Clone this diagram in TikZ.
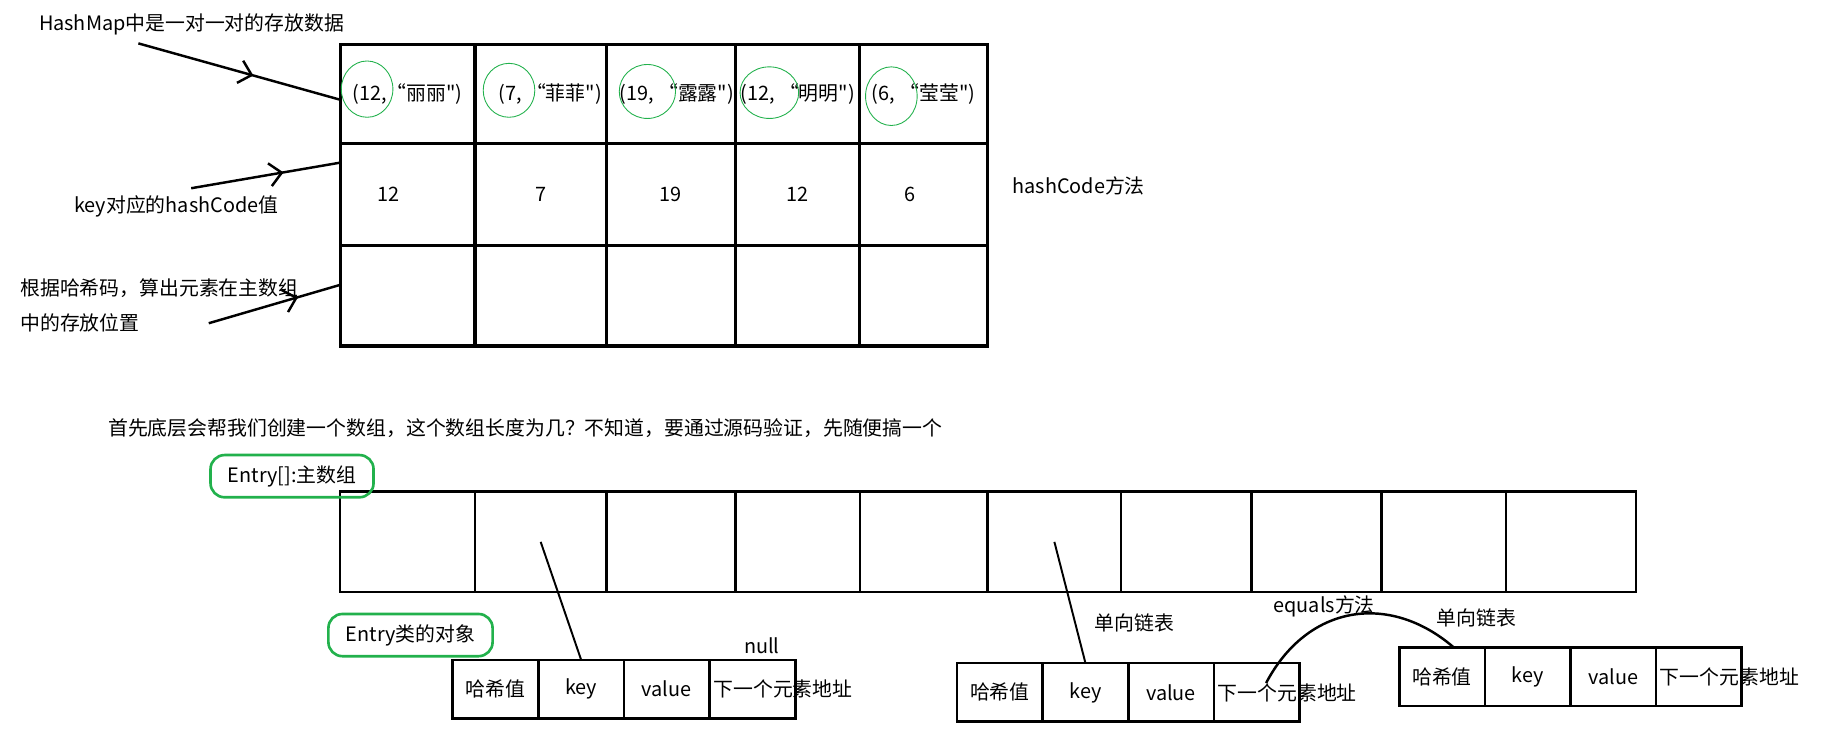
\documentclass[tikz,border=0pt]{standalone}
\usepackage{fontspec}
\setmainfont{Noto Sans CJK SC}[Ligatures=TeXOff]
\usepackage{tikz}
\usetikzlibrary{positioning, arrows.meta, decorations.markings, calc}
\definecolor{paintgreen}{RGB}{34,177,76}
\newlength{\px}
\setlength{\px}{0.02346cm}

\begin{document}
\begin{tikzpicture}[
  x=\px, y=-\px,
  every node/.style={font=\fontsize{11.3}{13}\selectfont},
  cell/.style 2 args={draw, line width=1.8pt, inner sep=0pt, outer sep=0pt, minimum width=#1\px, minimum height=#2\px},
  slot/.style={draw, line width=1.3pt, inner sep=0pt, outer sep=0pt, minimum width=#1\px, minimum height=86\px},
  field/.style={draw, line width=1.5pt, inner sep=0pt, outer sep=0pt, minimum width=73\px, minimum height=50\px},
  tag/.style={draw=paintgreen, line width=1.5pt, rounded corners=8pt, minimum width=#1\px, minimum height=36\px},
  ring/.style={draw=paintgreen, line width=0.5pt},
  pointer/.style={line width=1.1pt},
  hint/.style={line width=1.4pt, postaction={decorate}, decoration={markings, mark=at position #1 with {\arrow{Straight Barb[length=2.4mm, width=4.6mm]}}}}
]
  \useasboundingbox (0,0) rectangle (1568,637);

  \node[cell={115}{84}, anchor=north west] (t11) at (290,38) {(12,“丽丽")};
  \node[cell={112}{84}, right=0pt of t11] (t12) {\hspace*{16\px}(7, “菲菲")};
  \node[cell={110}{84}, right=0pt of t12] (t13) {\hspace*{10\px}(19, “露露")};
  \node[cell={106}{84}, right=0pt of t13] (t14) {(12, “明明")};
  \node[cell={109}{84}, right=0pt of t14] (t15) {(6, “莹莹")};
  \node[cell={115}{87}, below=0pt of t11] (t21) {\hspace*{-32\px}12};
  \node[cell={112}{87}, below=0pt of t12] (t22) {7};
  \node[cell={110}{87}, below=0pt of t13] (t23) {19};
  \node[cell={106}{87}, below=0pt of t14] (t24) {12};
  \node[cell={109}{87}, below=0pt of t15] (t25) {\hspace*{-24\px}6};
  \node[cell={115}{86}, below=0pt of t21] (t31) {};
  \node[cell={112}{86}, below=0pt of t22] (t32) {};
  \node[cell={110}{86}, below=0pt of t23] (t33) {};
  \node[cell={106}{86}, below=0pt of t24] (t34) {};
  \node[cell={109}{86}, below=0pt of t25] (t35) {};

  \foreach \cx/\cy/\rx/\ry in {313/76/22/24, 434/77/22/23, 552/78/24/23, 656/79/25/22, 760/82/22/25}
    \draw[ring] (\cx,\cy) ellipse [x radius=\rx, y radius=\ry];

  \node[anchor=west] (title) at (28,21) {HashMap中是一对一对的存放数据};
  \node[anchor=west] (hashval) at (58,176) {key对应的hashCode值};
  \node[anchor=west, align=left, font=\fontsize{11.3}{20}\selectfont] (place) at (12,260.7) {根据哈希码，算出元素在主数组\\中的存放位置};
  \node[anchor=west] (method) at (858,158.5) {hashCode方法};

  \coordinate (a1) at (118,37);
  \coordinate (a2) at (163,160.5);
  \coordinate (a3) at (178,275.6);
  \draw[hint=0.57] (a1) -- (t11.185);
  \draw[hint=0.62] (a2) -- (t21.155);
  \draw[hint=0.68] (a3) -- (t31.171);

  \node[anchor=west] (intro) at (87,365) {首先底层会帮我们创建一个数组，这个数组长度为几？不知道，要通过源码验证，先随便搞一个};

  \node[slot=115, anchor=north west] (b1) at (290,419) {};
  \node[slot=112, right=0pt of b1] (b2) {};
  \node[slot=110, right=0pt of b2] (b3) {};
  \node[slot=106, right=0pt of b3] (b4) {};
  \node[slot=109, right=0pt of b4] (b5) {};
  \node[slot=114, right=0pt of b5] (b6) {};
  \node[slot=111, right=0pt of b6] (b7) {};
  \node[slot=111, right=0pt of b7] (b8) {};
  \node[slot=106, right=0pt of b8] (b9) {};
  \node[slot=111, right=0pt of b9] (b10) {};

  \node[tag=139] (mainarr) at (249,406) {Entry[]:主数组};
  \node[tag=140] (entryobj) at (350,541.5) {Entry类的对象};

  \node[field, anchor=north west] (e1hash) at (386,562.6) {哈希值};
  \node[field, right=0pt of e1hash] (e1key) {key};
  \node[field, right=0pt of e1key] (e1val) {value};
  \node[field, right=0pt of e1val] (e1next) {};
  \node[anchor=west, inner sep=0pt] (e1addr) at ([xshift=3\px]e1next.west) {下一个元素地址};
  \node[above=0pt of e1next, xshift=8\px] (null) {null};

  \node[field, anchor=north west] (e2hash) at (816,565.4) {哈希值};
  \node[field, right=0pt of e2hash] (e2key) {key};
  \node[field, right=0pt of e2key] (e2val) {value};
  \node[field, right=0pt of e2val] (e2next) {};
  \node[anchor=west, inner sep=0pt] (e2addr) at ([xshift=3\px]e2next.west) {下一个元素地址};

  \node[field, anchor=north west] (e3hash) at (1193,552) {哈希值};
  \node[field, right=0pt of e3hash] (e3key) {key};
  \node[field, right=0pt of e3key] (e3val) {value};
  \node[field, right=0pt of e3val] (e3next) {};
  \node[anchor=west, inner sep=0pt] (e3addr) at ([xshift=3\px]e3next.west) {下一个元素地址};

  \node (chain1) at (967,531) {单向链表};
  \node (equals) at (1129,517) {equals方法};
  \node (chain2) at (1259,527) {单向链表};

  \draw[pointer] (b2.center) -- (e1key.north);
  \draw[pointer] (b6.center) -- (e2key.north);
  \draw[line width=1.4pt] ([shift={(8,-8)}]e2next.center) .. controls (1115,515) and (1185,505) .. ([xshift=10\px]e3hash.north);
\end{tikzpicture}
\end{document}
